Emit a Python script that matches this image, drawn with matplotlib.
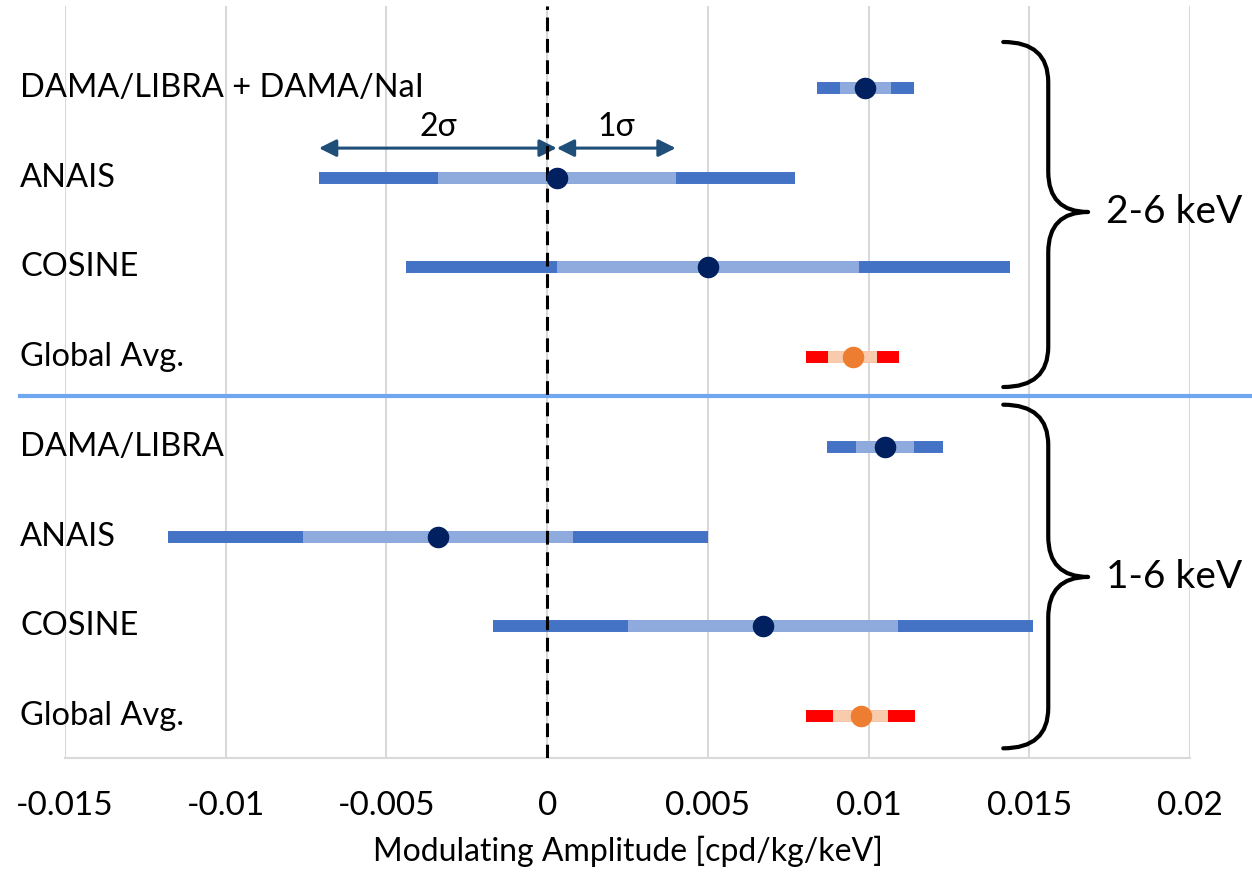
import matplotlib
matplotlib.use('Agg')
import matplotlib.pyplot as plt
import matplotlib.transforms as mtransforms
from matplotlib.path import Path
from matplotlib.patches import PathPatch
import numpy as np

plt.rcParams['font.family'] = ['Lato', 'DejaVu Sans']

# Data: central value, 1 sigma, 2 sigma (cpd/kg/keV)
labels = ['DAMA/LIBRA + DAMA/NaI', 'ANAIS', 'COSINE', 'Global Avg.',
          'DAMA/LIBRA', 'ANAIS', 'COSINE', 'Global Avg.']
centers = [0.0099, 0.0003, 0.0050, 0.0095, 0.0105, -0.0034, 0.0067, 0.00975]
sig1 = [0.0008, 0.0037, 0.0047, 0.00075, 0.0009, 0.0042, 0.0042, 0.00085]
sig2 = [0.0015, 0.0074, 0.0094, 0.00145, 0.0018, 0.0084, 0.0084, 0.0017]
is_avg = [False, False, False, True, False, False, False, True]
groups = ['2-6 keV', '1-6 keV']
xticks = [-0.015, -0.01, -0.005, 0, 0.005, 0.01, 0.015, 0.02]
xtick_labels = ['-0.015', '-0.01', '-0.005', '0', '0.005', '0.01', '0.015', '0.02']

DARK = '#4472C4'
LIGHT = '#8FAADC'
PT = '#002060'
RED = '#FF0000'
PEACH = '#F8CBAD'
ORANGE = '#ED7D31'

fig = plt.figure(figsize=(12.52, 8.73), dpi=100)
ax = fig.add_axes([65 / 1252, 1 - 758 / 873, 1125 / 1252, 752 / 873])

ax.set_xlim(-0.015, 0.02)
ax.set_ylim(7.468, -0.914)

ax.set_xticks(xticks)
ax.set_xticklabels(xtick_labels, fontsize=24)
ax.tick_params(axis='x', length=0, pad=24)
ax.set_yticks([])
ax.grid(axis='x', color='#d9d9d9', linewidth=1.5)
ax.set_axisbelow(True)
for s in ['top', 'right', 'left']:
    ax.spines[s].set_visible(False)
ax.spines['bottom'].set_color('#d9d9d9')
ax.spines['bottom'].set_linewidth(1.5)
ax.set_xlabel('Modulating Amplitude [cpd/kg/keV]', fontsize=23, labelpad=10)

ys = np.arange(len(labels))
for y, c, s1, s2, avg, lab in zip(ys, centers, sig1, sig2, is_avg, labels):
    outer = RED if avg else DARK
    inner = PEACH if avg else LIGHT
    dot = ORANGE if avg else PT
    ax.plot([c - s2, c + s2], [y, y], color=outer, lw=8.6, solid_capstyle='butt', zorder=3)
    ax.plot([c - s1, c + s1], [y, y], color=inner, lw=8.6, solid_capstyle='butt', zorder=4)
    ax.plot(c, y, 'o', color=dot, markersize=14.5, zorder=6)
    ax.text(-0.0164, y, lab, fontsize=23.5, va='center', ha='left', clip_on=False)

# zero line
ax.axvline(0, color='black', lw=2.2, ls=(0, (4.5, 2.5)), zorder=5)

# separator
sep_tr = mtransforms.blended_transform_factory(ax.transAxes, ax.transData)
ax.plot([-0.04, 1.055], [3.43, 3.43], color='#6FA8F0', lw=3,
        transform=sep_tr, clip_on=False, zorder=2)

# sigma arrows on ANAIS 2-6
ya = 0.67
arrow_kw = dict(arrowstyle='<|-|>', color='#1F4E79', lw=2.2, mutation_scale=26, shrinkA=0, shrinkB=0)
ax.annotate('', xy=(centers[1] - sig2[1], ya), xytext=(centers[1], ya), arrowprops=arrow_kw)
ax.annotate('', xy=(centers[1] + sig1[1], ya), xytext=(centers[1], ya), arrowprops=arrow_kw)
ax.text(centers[1] - sig2[1] / 2, 0.44, '2σ', fontsize=23, ha='center', va='center')
ax.text(centers[1] + sig1[1] / 2, 0.44, '1σ', fontsize=23, ha='center', va='center')


def brace(ax, x0, xm, xt, yt, yb, ytip, r):
    verts = [(x0, yt), (xm, yt), (xm, yt + r),
             (xm, ytip - r), (xm, ytip), (xt, ytip),
             (xm, ytip), (xm, ytip + r),
             (xm, yb - r), (xm, yb), (x0, yb)]
    codes = [Path.MOVETO, Path.CURVE3, Path.CURVE3,
             Path.LINETO, Path.CURVE3, Path.CURVE3,
             Path.CURVE3, Path.CURVE3,
             Path.LINETO, Path.CURVE3, Path.CURVE3]
    ax.add_patch(PathPatch(Path(verts, codes), fill=False, lw=3, color='black',
                           clip_on=False, capstyle='round', joinstyle='round'))


brace(ax, 0.01419, 0.01559, 0.01683, -0.513, 3.333, 1.382, 0.45)
brace(ax, 0.01419, 0.01559, 0.01683, 3.53, 7.36, 5.45, 0.45)
ax.text(0.0174, 1.382, groups[0], fontsize=28, va='center', ha='left', clip_on=False)
ax.text(0.0174, 5.45, groups[1], fontsize=28, va='center', ha='left', clip_on=False)

fig.savefig('out.png', dpi=100)
